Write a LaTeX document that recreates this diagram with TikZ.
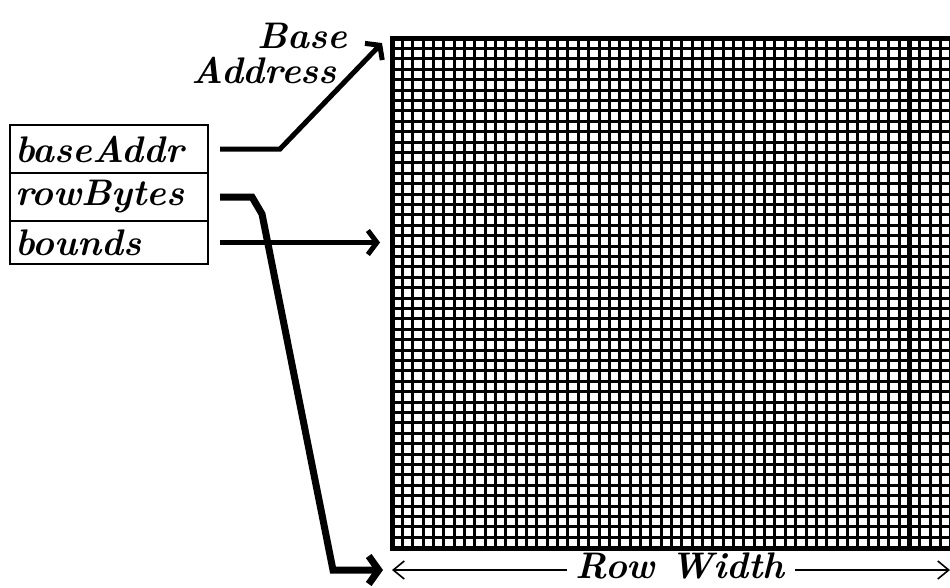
\documentclass[tikz,border=0pt]{standalone}
\usetikzlibrary{arrows.meta,positioning,calc}
\newcommand\callig{\fontsize{37}{40}\selectfont\bfseries\itshape}
\tikzset{
  field/.style={draw,line width=2pt,outer sep=0pt,inner xsep=4pt,
                minimum width=198pt,minimum height=48pt,text width=188pt,
                align=left,font=\callig},
  ptr/.style={line width=5pt,-{Straight Barb[length=9pt,width=24pt]}},
  dim/.style={line width=1.6pt,-{Straight Barb[length=11pt,width=18pt,line width=1.6pt]}},
  label/.style={inner sep=0pt,font=\callig},
  gridline/.style={line width=3pt}}
\begin{document}
\begin{tikzpicture}[x=1pt,y=-1pt]
  \useasboundingbox (0,0) rectangle (950,587);
  % record fields
  \node (base) [field,anchor=north west] at (10,125) {baseAddr};
  \node (rowb) [field,below=0pt of base] {rowBytes};
  \node (bnds) [field,below=0pt of rowb,minimum height=43pt] {bounds};
  % bit image
  \node (bits) [inner sep=0pt,outer sep=0pt,minimum width=558pt,minimum height=510pt,
                anchor=north west] at (392,38) {};
  \begin{scope}
    \clip (bits.south west) rectangle (bits.north east);
    \foreach \i in {0,...,54}
      \draw[gridline] (392+\i*10.35,38) -- (392+\i*10.35,548);
    \foreach \j in {0,...,49}
      \draw[gridline] (392,38+\j*10.4) -- (950,38+\j*10.4);
    \draw[line width=5pt] (392+50*10.35,38) -- (392+50*10.35,548);
  \end{scope}
  \draw[line width=5pt] (bits.north east) -- (bits.north west)
    -- (bits.south west) -- (bits.south east);
  % labels
  \node (basetxt) [label] at (302,36) {Base};
  \node (addrtxt) [label] at (264,70) {Address};
  \node (rwtxt) [label] at (680,566) {Row Width};
  \coordinate (rwl) at (392,570);
  \coordinate (rwr) at (950,570);
  % pointers
  \draw[ptr] ([xshift=12pt]base.east) -- ++(60,0)
    -- ([xshift=-10pt,yshift=-5pt]bits.north west);
  \draw[ptr] ([xshift=12pt]bnds.east) -- ([xshift=-12pt]bnds.east -| bits.west);
  \draw[ptr,line width=7pt,-{Straight Barb[length=10pt,width=28pt]}]
    ([xshift=12pt]rowb.east) -- ++(32,0) -- ++(10,17) -- (333,570)
    -- ([xshift=-9pt]rwl);
  % row width
  \draw[dim] ([xshift=-8pt]rwtxt.west |- rwl) -- (rwl);
  \draw[dim] ([xshift=10pt]rwtxt.east |- rwr) -- (rwr);
\end{tikzpicture}
\end{document}
